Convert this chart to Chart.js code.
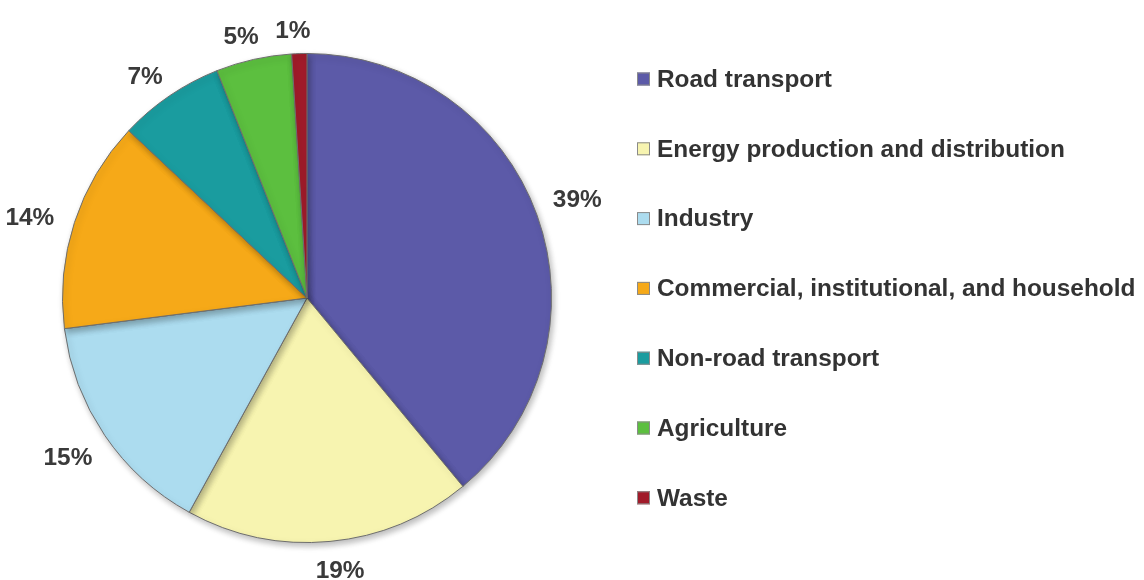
<!DOCTYPE html>
<html>
<head>
<meta charset="utf-8">
<script src="https://cdn.jsdelivr.net/npm/chart.js@4"></script>
<style>
  html, body { margin: 0; padding: 0; background: #ffffff; }
  #wrap { width: 1144px; height: 580px; position: relative; }
</style>
</head>
<body>
<div id="wrap"><canvas id="c" width="1144" height="580"></canvas></div>
<script>
const categories = [
  "Road transport",
  "Energy production and distribution",
  "Industry",
  "Commercial, institutional, and household",
  "Non-road transport",
  "Agriculture",
  "Waste"
];
const shares = [39, 19, 15, 14, 7, 5, 1];
const sliceColors = ["#5c5aa8", "#f7f4b0", "#acdcef", "#f6a918", "#1a9c9f", "#5cbf3f", "#a11b2a"];

const FONT = '"Liberation Sans", Arial, sans-serif';
const FONT_PX = 24.4;

const shadowPlugin = {
  id: 'pieShadow',
  beforeDatasetsDraw(chart) {
    const ctx = chart.ctx;
    ctx.save();
    ctx.shadowColor = 'rgba(0,0,0,0.28)';
    ctx.shadowBlur = 6;
    ctx.shadowOffsetX = 2;
    ctx.shadowOffsetY = 3;
  },
  afterDatasetsDraw(chart) {
    chart.ctx.restore();
  }
};

const outerLabels = {
  id: 'outerLabels',
  afterDatasetsDraw(chart) {
    const ctx = chart.ctx;
    const meta = chart.getDatasetMeta(0);
    ctx.save();
    ctx.font = 'bold ' + FONT_PX + 'px ' + FONT;
    ctx.fillStyle = '#3a3a3a';
    ctx.textAlign = 'center';
    ctx.textBaseline = 'middle';
    meta.data.forEach((arc, i) => {
      const p = arc.getProps(['x', 'y', 'startAngle', 'endAngle', 'outerRadius'], true);
      const mid = (p.startAngle + p.endAngle) / 2 - 0.02;
      const dx = Math.cos(mid), dy = Math.sin(mid);
      const txt = chart.data.datasets[0].data[i] + '%';
      const w = ctx.measureText(txt).width;
      const h = 18;
      const gap = 13 + 8 * Math.abs(dx) + 8 * Math.max(dy, 0);
      const d = p.outerRadius + gap;
      const x = p.x + dx * d + dx * w / 2;
      const y = p.y + dy * d + dy * h / 2;
      ctx.fillText(txt, x, y);
    });
    ctx.restore();
  }
};

const sideLegend = {
  id: 'sideLegend',
  afterDraw(chart) {
    const ctx = chart.ctx;
    const ds = chart.data.datasets[0];
    const boxX = 637, box = 13, textX = 657, firstY = 79, step = 69.8;
    ctx.save();
    ctx.font = 'bold ' + FONT_PX + 'px ' + FONT;
    ctx.textBaseline = 'middle';
    ctx.textAlign = 'left';
    chart.data.labels.forEach((lab, i) => {
      const y = firstY + i * step;
      ctx.fillStyle = ds.backgroundColor[i];
      ctx.fillRect(boxX, y - box / 2, box, box);
      ctx.strokeStyle = '#8a8a8a';
      ctx.lineWidth = 1;
      ctx.strokeRect(boxX + 0.5, y - box / 2 + 0.5, box - 1, box - 1);
      ctx.fillStyle = '#333333';
      ctx.fillText(lab, textX, y + 1);
    });
    ctx.restore();
  }
};

new Chart(document.getElementById('c'), {
  type: 'pie',
  data: {
    labels: categories,
    datasets: [{
      data: shares,
      backgroundColor: sliceColors,
      borderColor: '#6e6e6e',
      borderWidth: 1
    }]
  },
  options: {
    responsive: false,
    animation: false,
    layout: { padding: { left: 62, right: 592, top: 53, bottom: 37 } },
    plugins: {
      legend: { display: false },
      tooltip: { enabled: false }
    }
  },
  plugins: [shadowPlugin, outerLabels, sideLegend]
});
</script>
</body>
</html>
